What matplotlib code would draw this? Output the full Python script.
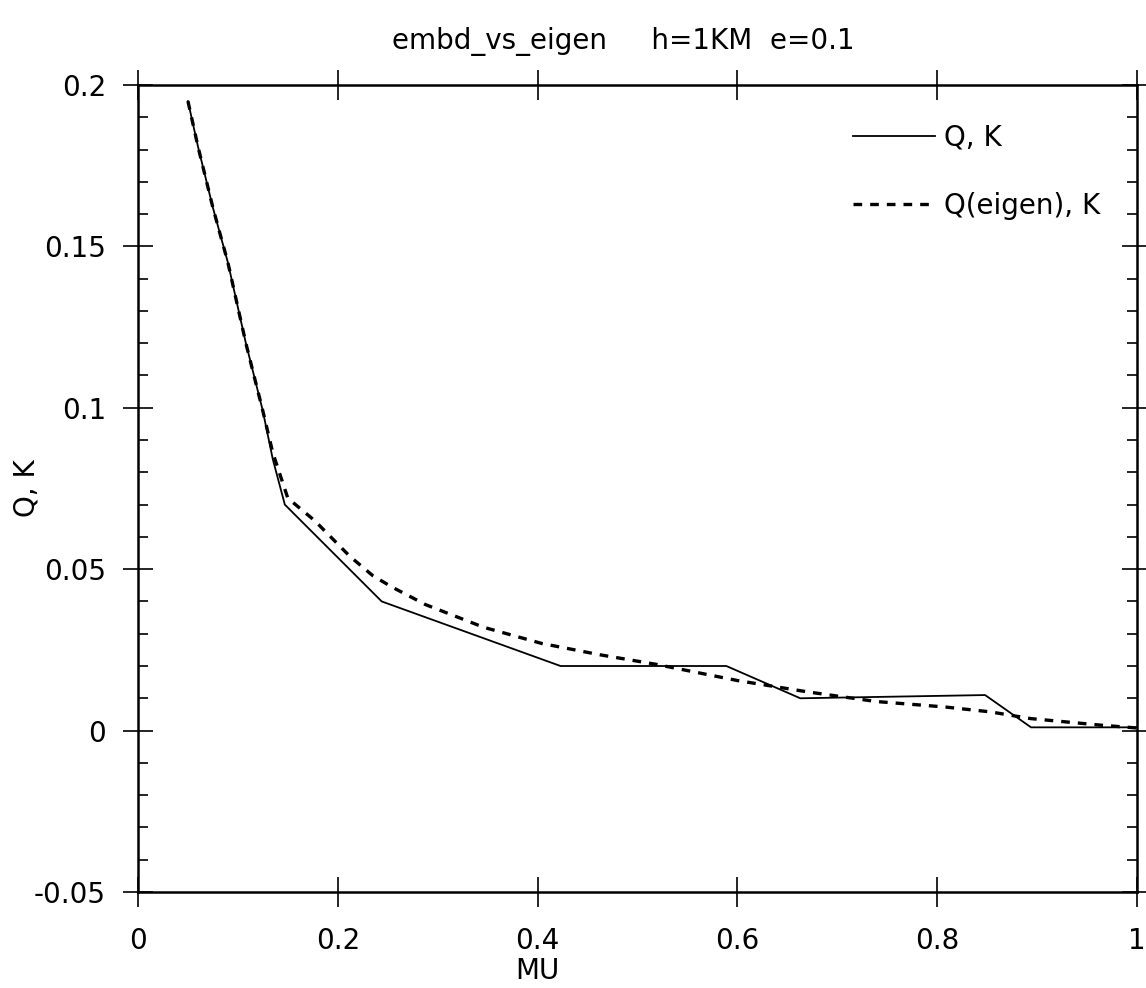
import numpy as np
import matplotlib
matplotlib.use("Agg")
import matplotlib.pyplot as plt
from matplotlib.ticker import FixedLocator, MultipleLocator, FuncFormatter

plt.rcParams['font.family'] = ['DejaVu Sans']
plt.rcParams['axes.unicode_minus'] = False

# Q, K (solid)
mu_q = [0.05, 0.06, 0.075, 0.09, 0.108, 0.125, 0.135, 0.147, 0.244, 0.423,
        0.589, 0.663, 0.848, 0.894, 1.0]
q_k = [0.195, 0.181, 0.162, 0.145, 0.120, 0.099, 0.084, 0.070, 0.040, 0.020,
       0.020, 0.010, 0.011, 0.001, 0.001]

# Q(eigen), K (dashed)
mu_e = [0.05, 0.06, 0.075, 0.09, 0.108, 0.125, 0.135, 0.15, 0.177, 0.212,
        0.235, 0.254, 0.288, 0.346, 0.404, 0.462, 0.519, 0.6, 0.67, 0.739,
        0.808, 0.853, 0.894, 0.963, 1.0]
q_eigen = [0.195, 0.181, 0.162, 0.145, 0.120, 0.099, 0.086, 0.072, 0.065, 0.054,
           0.048, 0.0445, 0.039, 0.032, 0.027, 0.0235, 0.0205, 0.0155, 0.012, 0.009,
           0.0073, 0.0058, 0.0037, 0.0017, 0.0008]

xticks = [0, 0.2, 0.4, 0.6, 0.8, 1.0]
yticks = [-0.05, 0, 0.05, 0.1, 0.15, 0.2]

fig = plt.figure(figsize=(11.46, 9.88), dpi=100)
ax = fig.add_axes([0.1204, 0.0972, 0.8717, 0.8168])

ax.plot(mu_q, q_k, color='black', linewidth=1.3, label='Q, K')
ax.plot(mu_e, q_eigen, color='black', linewidth=2.4, linestyle=(0, (2.6, 2.4)),
        label='Q(eigen), K')

ax.set_xlim(0, 1)
ax.set_ylim(-0.05, 0.2)

fmt = FuncFormatter(lambda v, p: '%g' % round(v, 3))
ax.xaxis.set_major_locator(FixedLocator(xticks))
ax.yaxis.set_major_locator(FixedLocator(yticks))
ax.xaxis.set_major_formatter(fmt)
ax.yaxis.set_major_formatter(fmt)
ax.yaxis.set_minor_locator(MultipleLocator(0.01))

ax.tick_params(axis='both', which='major', direction='inout', length=22, width=1.2,
               labelsize=20, top=True, right=True)
ax.tick_params(axis='x', which='major', pad=14)
ax.tick_params(axis='y', which='major', pad=12)
ax.tick_params(axis='y', which='minor', direction='in', length=7, width=1.2,
               left=True, right=True)

for s in ax.spines.values():
    s.set_linewidth(1.8)

ax.set_xlabel('MU', fontsize=20)
ax.xaxis.set_label_coords(0.40, -0.08)
ax.set_ylabel('Q, K', fontsize=20)
ax.yaxis.set_label_coords(-0.098, 0.5)

fig.text(0.544, 0.958, 'embd_vs_eigen     h=1KM  e=0.1', fontsize=20,
         ha='center', va='center')

ax.legend(loc='upper left', bbox_to_anchor=(0.716, 0.952), frameon=False,
          borderpad=0, borderaxespad=0, fontsize=20, handlelength=2.95,
          handletextpad=0.3, labelspacing=1.45)

fig.savefig('out.png', dpi=100)
